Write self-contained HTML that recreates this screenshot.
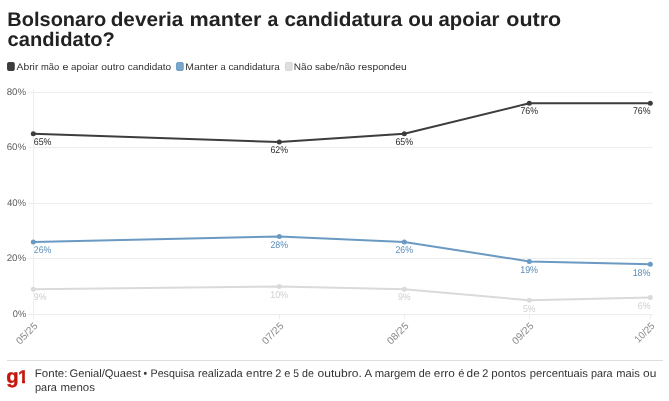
<!DOCTYPE html>
<html lang="pt-BR">
<head>
<meta charset="utf-8">
<title>Bolsonaro deveria manter a candidatura ou apoiar outro candidato?</title>
<style>
html,body{margin:0;padding:0;background:#fff;}
body{width:669px;height:401px;position:relative;overflow:hidden;font-family:"Liberation Sans",sans-serif;}
svg{position:absolute;left:0;top:0;display:block}
text{font-family:"Liberation Sans",sans-serif;text-rendering:geometricPrecision;}
.title{font-weight:700;font-size:19.8px;fill:#222;}
.leg{font-size:9.5px;fill:#333;}
.ax{font-size:9.5px;fill:#5e5e5e;}
.xl{font-size:10px;fill:#878787;}
.d1,.d2,.d3{stroke:#fff;stroke-width:2px;paint-order:stroke;stroke-linejoin:round}
.d1{font-size:9.7px;fill:#2a2a2a;}
.d2{font-size:9.7px;fill:#5b8db8;}
.d3{font-size:9.7px;fill:#d0d0d0;}
.src{font-size:11px;fill:#333;}
.g1{font-weight:700;fill:#c4170c}
</style>
</head>
<body>
<svg width="669" height="401" viewBox="0 0 669 401">
<rect width="669" height="401" fill="#fff"/>
<text class="title" transform="translate(7.35,25.80) scale(1.0102,1)">Bolsonaro</text>
<text class="title" transform="translate(110.65,25.80) scale(1.0500,1)">deveria</text>
<text class="title" transform="translate(189.45,25.80) scale(1.0922,1)">manter</text>
<text class="title" transform="translate(267.50,25.80) scale(0.9789,1)">a</text>
<text class="title" transform="translate(284.55,25.80) scale(1.0498,1)">candidatura</text>
<text class="title" transform="translate(408.25,25.80) scale(1.0447,1)">ou</text>
<text class="title" transform="translate(438.48,25.80) scale(1.0284,1)">apoiar</text>
<text class="title" transform="translate(506.33,25.80) scale(1.0869,1)">outro</text>
<text class="title" transform="translate(7.57,46.40) scale(1.0175,1)">candidato?</text>

<rect x="7.6" y="62.6" width="6.6" height="7.8" rx="0.9" fill="#3d3d3d" stroke="#353535" stroke-width="1"/>
<text class="leg" transform="translate(16.50,69.80) scale(1.0880,1)">Abrir</text>
<text class="leg" transform="translate(41.01,69.80) scale(0.9830,1)">mão</text>
<text class="leg" transform="translate(62.45,69.80) scale(1.1333,1)">e</text>
<text class="leg" transform="translate(71.09,69.80) scale(1.0272,1)">apoiar</text>
<text class="leg" transform="translate(101.22,69.80) scale(1.0803,1)">outro</text>
<text class="leg" transform="translate(127.78,69.80) scale(1.0515,1)">candidato</text>
<rect x="176.6" y="62.6" width="6.6" height="7.8" rx="0.9" fill="#7aa6c9" stroke="#6a9ac3" stroke-width="1"/>
<text class="leg" transform="translate(185.28,69.80) scale(1.0940,1)">Manter</text>
<text class="leg" transform="translate(220.41,69.80) scale(0.9796,1)">a</text>
<text class="leg" transform="translate(228.39,69.80) scale(1.0352,1)">candidatura</text>
<rect x="285.5" y="62.6" width="6.6" height="7.8" rx="0.9" fill="#dedede" stroke="#d4d4d4" stroke-width="1"/>
<text class="leg" transform="translate(293.81,69.80) scale(1.0556,1)">Não</text>
<text class="leg" transform="translate(314.94,69.80) scale(1.0323,1)">sabe/não</text>
<text class="leg" transform="translate(358.05,69.80) scale(1.0866,1)">respondeu</text>

<g stroke="#ededed" stroke-width="1" shape-rendering="crispEdges">
<line x1="28" x2="653" y1="92.5" y2="92.5"/>
<line x1="28" x2="653" y1="147.5" y2="147.5"/>
<line x1="28" x2="653" y1="203.5" y2="203.5"/>
<line x1="28" x2="653" y1="258.5" y2="258.5"/>
<line x1="28" x2="653" y1="314.5" y2="314.5"/>
<line x1="33.5" x2="33.5" y1="89" y2="319"/>
<line x1="279.5" x2="279.5" y1="314" y2="319"/>
<line x1="404.5" x2="404.5" y1="314" y2="319"/>
<line x1="529.5" x2="529.5" y1="314" y2="319"/>
<line x1="650.5" x2="650.5" y1="314" y2="319"/>
</g>
<text class="ax" transform="translate(6.69,94.65) scale(1.0209,1)">80%</text>
<text class="ax" transform="translate(6.64,150.15) scale(1.0237,1)">60%</text>
<text class="ax" transform="translate(6.90,205.65) scale(1.0099,1)">40%</text>
<text class="ax" transform="translate(6.64,261.15) scale(1.0237,1)">20%</text>
<text class="ax" transform="translate(12.76,316.65) scale(0.9707,1)">0%</text>
<polyline fill="none" stroke="#dadada" stroke-width="2" stroke-linejoin="round" points="33.3,289.2 279.3,286.4 404.3,289.2 529.3,300.3 650.3,297.5"/>
<g fill="#dadada"><circle cx="33.3" cy="289.2" r="2.5"/><circle cx="279.3" cy="286.4" r="2.5"/><circle cx="404.3" cy="289.2" r="2.5"/><circle cx="529.3" cy="300.3" r="2.5"/><circle cx="650.3" cy="297.5" r="2.5"/></g>
<polyline fill="none" stroke="#6a9ac3" stroke-width="2" stroke-linejoin="round" points="33.3,242.0 279.3,236.4 404.3,242.0 529.3,261.4 650.3,264.2"/>
<g fill="#6a9ac3"><circle cx="33.3" cy="242.0" r="2.5"/><circle cx="279.3" cy="236.4" r="2.5"/><circle cx="404.3" cy="242.0" r="2.5"/><circle cx="529.3" cy="261.4" r="2.5"/><circle cx="650.3" cy="264.2" r="2.5"/></g>
<polyline fill="none" stroke="#3d3d3d" stroke-width="2" stroke-linejoin="round" points="33.3,133.8 279.3,142.1 404.3,133.8 529.3,103.3 650.3,103.3"/>
<g fill="#3d3d3d"><circle cx="33.3" cy="133.8" r="2.5"/><circle cx="279.3" cy="142.1" r="2.5"/><circle cx="404.3" cy="133.8" r="2.5"/><circle cx="529.3" cy="103.3" r="2.5"/><circle cx="650.3" cy="103.3" r="2.5"/></g>
<text class="d3" transform="translate(33.79,299.90) scale(0.9060,1)">9%</text>
<text class="d3" transform="translate(270.21,297.90) scale(0.9190,1)">10%</text>
<text class="d3" transform="translate(397.89,299.90) scale(0.9060,1)">9%</text>
<text class="d3" transform="translate(522.99,311.90) scale(0.8992,1)">5%</text>
<text class="d3" transform="translate(637.79,308.90) scale(0.9060,1)">6%</text>
<text class="d2" transform="translate(33.79,252.90) scale(0.9067,1)">26%</text>
<text class="d2" transform="translate(270.44,247.90) scale(0.9067,1)">28%</text>
<text class="d2" transform="translate(395.44,252.90) scale(0.9067,1)">26%</text>
<text class="d2" transform="translate(520.21,272.90) scale(0.9190,1)">19%</text>
<text class="d2" transform="translate(632.66,275.90) scale(0.9190,1)">18%</text>
<text class="d1" transform="translate(33.79,144.90) scale(0.9067,1)">65%</text>
<text class="d1" transform="translate(270.44,152.90) scale(0.9067,1)">62%</text>
<text class="d1" transform="translate(395.44,144.90) scale(0.9067,1)">65%</text>
<text class="d1" transform="translate(520.44,113.90) scale(0.9067,1)">76%</text>
<text class="d1" transform="translate(632.89,113.90) scale(0.9067,1)">76%</text>
<text class="xl" transform="translate(38.3,326.5) rotate(-45) scale(1.0390,1)" text-anchor="end">05/25</text>
<text class="xl" transform="translate(284.3,326.5) rotate(-45) scale(1.0390,1)" text-anchor="end">07/25</text>
<text class="xl" transform="translate(409.3,326.5) rotate(-45) scale(1.0390,1)" text-anchor="end">08/25</text>
<text class="xl" transform="translate(534.3,326.5) rotate(-45) scale(1.0390,1)" text-anchor="end">09/25</text>
<text class="xl" transform="translate(655.3,326.5) rotate(-45) scale(0.9431,1)" text-anchor="end">10/25</text>
<line x1="7" x2="663" y1="360.5" y2="360.5" stroke="#ddd" stroke-width="1" shape-rendering="crispEdges"/>
<clipPath id="c1"><path d="M17 365H30V380.5H25V384H22V380.5H17Z"/></clipPath>
<text class="g1" x="6.2" y="382.8" style="font-size:20.2px;stroke:#c4170c;stroke-width:0.4px">g</text>
<g clip-path="url(#c1)"><text class="g1" x="18.0" y="382.8" style="font-size:18.2px;stroke:#c4170c;stroke-width:0.3px">1</text></g>
<text class="src" transform="translate(34.75,377.10) scale(1.0502,1)">Fonte:</text>
<text class="src" transform="translate(69.54,377.10) scale(1.0127,1)">Genial/Quaest</text>
<text class="src" transform="translate(143.39,377.10) scale(0.9400,1)">•</text>
<text class="src" transform="translate(150.53,377.10) scale(0.9711,1)">Pesquisa</text>
<text class="src" transform="translate(198.00,377.10) scale(1.0006,1)">realizada</text>
<text class="src" transform="translate(246.12,377.10) scale(1.0640,1)">entre</text>
<text class="src" transform="translate(275.36,377.10) scale(0.9901,1)">2</text>
<text class="src" transform="translate(284.35,377.10) scale(1.0000,1)">e</text>
<text class="src" transform="translate(293.33,377.10) scale(0.9400,1)">5</text>
<text class="src" transform="translate(301.96,377.10) scale(0.9719,1)">de</text>
<text class="src" transform="translate(317.61,377.10) scale(1.0961,1)">outubro.</text>
<text class="src" transform="translate(364.40,377.10) scale(1.0340,1)">A</text>
<text class="src" transform="translate(374.68,377.10) scale(1.0224,1)">margem</text>
<text class="src" transform="translate(418.86,377.10) scale(0.9808,1)">de</text>
<text class="src" transform="translate(433.82,377.10) scale(1.0725,1)">erro</text>
<text class="src" transform="translate(458.19,377.10) scale(1.0192,1)">é</text>
<text class="src" transform="translate(466.62,377.10) scale(1.0691,1)">de</text>
<text class="src" transform="translate(482.36,377.10) scale(0.9901,1)">2</text>
<text class="src" transform="translate(491.36,377.10) scale(1.0508,1)">pontos</text>
<text class="src" transform="translate(529.78,377.10) scale(1.0229,1)">percentuais</text>
<text class="src" transform="translate(590.91,377.10) scale(0.9884,1)">para</text>
<text class="src" transform="translate(616.29,377.10) scale(1.0102,1)">mais</text>
<text class="src" transform="translate(643.11,377.10) scale(1.0842,1)">ou</text>
<text class="src" transform="translate(35.00,391.00) scale(0.9930,1)">para</text>
<text class="src" transform="translate(60.57,391.00) scale(1.0417,1)">menos</text>
</svg>
</body>
</html>
